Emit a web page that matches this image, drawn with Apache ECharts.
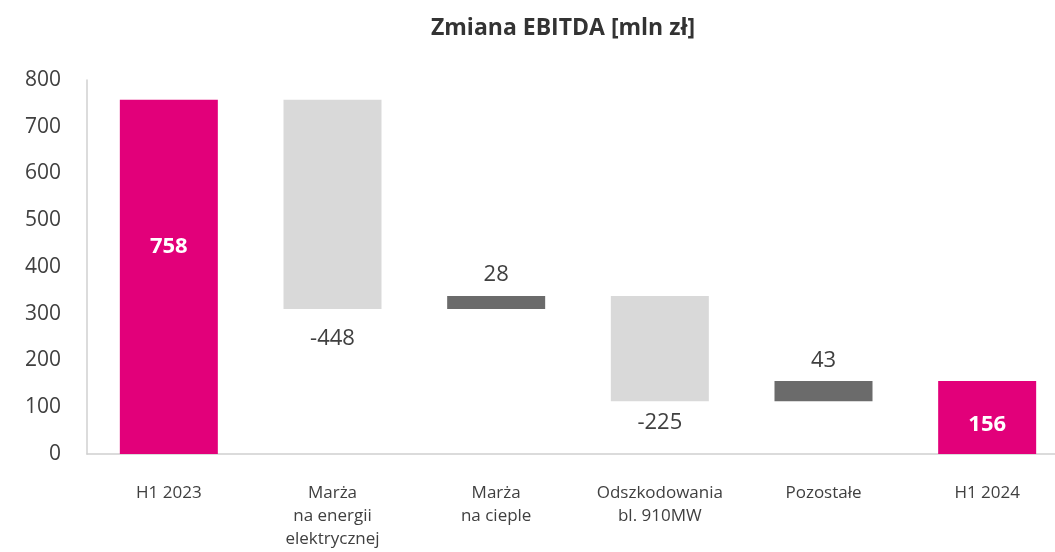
<!DOCTYPE html>
<html style="height: 100%">

<head>
    <meta charset="utf-8">
    <script src="https://cdn.jsdelivr.net/npm/echarts@6/dist/echarts.min.js"></script>
</head>

<body style="height: 100%; margin: 0; background: #fff">
    <div id="chart" style="width: 1055px; height: 552px"></div>
    <script type="text/javascript">
        // categories and changes
        var categories = ['H1 2023', 'Marża\nna energii\nelektrycznej', 'Marża\nna cieple',
            'Odszkodowania\nbl. 910MW', 'Pozostałe', 'H1 2024'];
        var changes = [758, -448, 28, -225, 43, 156];
        var isTotal = [true, false, false, false, false, true];
        var yTicks = [0, 100, 200, 300, 400, 500, 600, 700, 800];

        var MAGENTA = '#e2007a', LIGHT = '#d9d9d9', DARK = '#6b6b6b';
        var FONT = '"Open Sans", "Noto Sans", sans-serif';
        // small nudges so labels sit where the original has them
        var labelOffset = [[0, -30], null, null, null, null, [0, 7]];
        var labelDistance = [0, 19, 10, 11, 9, 0];

        var base = [], bars = [];
        var running = 0;
        for (var i = 0; i < changes.length; i++) {
            var v = changes[i];
            var item = { value: 0, itemStyle: {}, label: { show: true, distance: labelDistance[i] } };
            if (isTotal[i]) {
                base.push(0);
                item.value = v;
                item.itemStyle.color = MAGENTA;
                item.label.position = 'inside';
                item.label.offset = labelOffset[i];
                item.label.color = '#fff';
                item.label.fontWeight = 'bold';
                running = v;
            } else if (v < 0) {
                base.push(running + v);
                item.value = -v;
                item.itemStyle.color = LIGHT;
                item.label.position = 'bottom';
                running += v;
            } else {
                base.push(running);
                item.value = v;
                item.itemStyle.color = DARK;
                item.label.position = 'top';
                running += v;
            }
            item.label.formatter = String(v);
            bars.push(item);
        }

        var myChart = echarts.init(document.getElementById('chart'));
        myChart.setOption({
            animation: false,
            title: {
                text: 'Zmiana EBITDA [mln zł]',
                left: 558,
                textAlign: 'center',
                top: 12,
                textStyle: { fontFamily: FONT, fontSize: 23, fontWeight: 'bold', color: '#333' }
            },
            grid: {
                left: 87, width: 982, top: 80, bottom: 98,
                containLabel: false, outerBoundsMode: 'none'
            },
            xAxis: {
                type: 'category',
                data: categories,
                axisLine: { lineStyle: { color: '#d0d0d0', width: 1.5 } },
                axisTick: { show: false },
                axisLabel: {
                    interval: 0, margin: 28, lineHeight: 23,
                    fontFamily: FONT, fontSize: 17, color: '#404040'
                }
            },
            yAxis: {
                type: 'value',
                min: yTicks[0],
                max: yTicks[yTicks.length - 1],
                interval: 100,
                splitLine: { show: false },
                axisLine: { show: true, lineStyle: { color: '#d0d0d0', width: 1.5 } },
                axisTick: { show: false },
                axisLabel: { margin: 26, fontFamily: FONT, fontSize: 21, color: '#404040' }
            },
            series: [{
                type: 'bar',
                stack: 'w',
                data: base,
                barWidth: 98,
                itemStyle: { color: 'transparent' },
                silent: true
            }, {
                type: 'bar',
                stack: 'w',
                data: bars,
                barWidth: 98,
                label: { fontFamily: FONT, fontSize: 22, color: '#404040' }
            }]
        });
    </script>
</body>

</html>
